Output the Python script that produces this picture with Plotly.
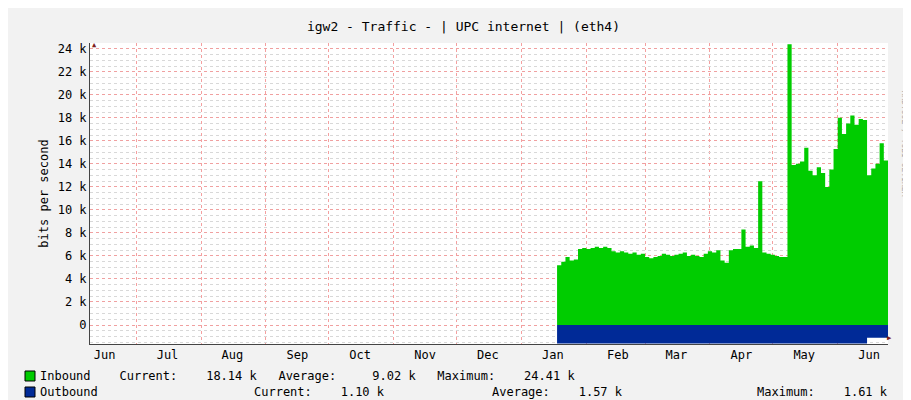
import pandas as pd
import plotly.graph_objects as go

# day offsets from 2013-01-01, sampled every 2 days (values in k bits/s)
days = list(range(17, 177, 2))
inbound = [5.2, 5.5, 5.9, 5.6, 5.7, 6.6, 6.7, 6.6, 6.7, 6.8, 6.7, 6.8, 6.7, 6.4, 6.3, 6.4,
           6.3, 6.2, 6.3, 6.1, 6.2, 5.9, 5.8, 5.9, 6.0, 6.2, 6.1, 6.0, 6.1, 6.2, 6.3, 6.0,
           6.1, 6.0, 5.9, 6.2, 6.4, 6.3, 6.5, 5.6, 5.4, 6.5, 6.6, 6.6, 8.3, 6.8, 6.9, 6.7,
           12.5, 6.3, 6.2, 6.1, 6.0, 5.9, 5.9, 24.4, 13.9, 14.0, 14.2, 15.4, 13.4, 13.0,
           13.7, 13.2, 12.0, 13.5, 15.3, 18.0, 16.6, 17.5, 18.2, 17.4, 17.9, 17.8, 13.0,
           13.6, 14.0, 15.8, 14.3, 19.0]
outbound = [1.6 if d < 164 else 1.1 for d in days]

month_labels = ["Jun", "Jul", "Aug", "Sep", "Oct", "Nov", "Dec",
                "Jan", "Feb", "Mar", "Apr", "May", "Jun"]
month_mid = pd.date_range("2012-06-01", periods=13, freq="MS") + pd.Timedelta(days=15)
y_ticks = list(range(0, 25, 2))
y_labels = ["0"] + [f"{v} k" for v in y_ticks[1:]]

dates = pd.Timestamp("2013-01-01") + pd.to_timedelta(days, unit="D")
mono = "DejaVu Sans Mono"

fig = go.Figure()
fig.add_trace(go.Scatter(x=dates, y=inbound, mode="lines", line=dict(width=0, shape="hv"),
                         fill="tozeroy", fillcolor="#00cc00", name="Inbound"))
fig.add_trace(go.Scatter(x=dates, y=[-v for v in outbound], mode="lines",
                         line=dict(width=0, shape="hv"),
                         fill="tozeroy", fillcolor="#002a97", name="Outbound"))

fig.update_layout(
    width=911, height=400, showlegend=False,
    paper_bgcolor="#f2f2f2", plot_bgcolor="white",
    margin=dict(l=82, r=31, t=35, b=64, autoexpand=False),
    font=dict(family=mono, size=12, color="black"),
    title=dict(text="igw2 - Traffic - | UPC internet | (eth4)", x=0.5, y=0.965,
               xanchor="center", font=dict(family=mono, size=13)),
)
fig.update_xaxes(range=["2012-06-09", "2013-06-25"], tickvals=month_mid, ticktext=month_labels,
                 showgrid=False, ticks="", showline=True, linecolor="#444", automargin=False,
                 minor=dict(dtick="M1", tick0="2012-07-01", showgrid=True,
                            gridcolor="#f4a0a0", griddash="dot", ticks=""),
                 zeroline=False)
fig.update_yaxes(range=[-1.65, 24.5], tickvals=y_ticks, ticktext=y_labels, automargin=False,
                 showgrid=True, gridcolor="#f0a0a0", griddash="dot", gridwidth=1,
                 showline=True, linecolor="#444", ticks="", zeroline=False,
                 minor=dict(dtick=0.5, showgrid=True, gridcolor="#d8d8d8", griddash="dot"),
                 title=dict(text="bits per second", font=dict(family=mono, size=12), standoff=6))

# axis arrows
fig.add_annotation(x=0, y=1, xref="paper", yref="paper", text="▲", showarrow=False,
                   font=dict(size=7, color="#802020"), yshift=4)
fig.add_annotation(x=1, y=0, xref="paper", yref="paper", text="▶", showarrow=False,
                   font=dict(size=7, color="#802020"), xshift=6)

# legend
def legend_text(x, y, text):
    fig.add_annotation(x=x, y=y, xref="paper", yref="paper", xanchor="left",
                       yanchor="middle", text=text, showarrow=False,
                       font=dict(family=mono, size=12))

def px(xp):
    return (xp - 82) / 798

def py(yp):
    return (336 - yp) / 301

for yp, color in [(368, "#00cc00"), (384, "#002a97")]:
    fig.add_shape(type="rect", xref="paper", yref="paper",
                  x0=px(17), x1=px(27), y0=py(yp + 5), y1=py(yp - 5),
                  fillcolor=color, line=dict(color="black", width=1))
legend_text(px(30), py(368), "Inbound    Current:    18.14 k   Average:     9.02 k   Maximum:    24.41 k")
legend_text(px(30), py(384), "Outbound")
legend_text(px(244), py(384), "Current:    1.10 k")
legend_text(px(482), py(384), "Average:    1.57 k")
legend_text(px(747), py(384), "Maximum:    1.61 k")

fig.add_annotation(x=px(903), y=py(80), xref="paper", yref="paper", text="RRDTOOL / TOBI OETIKER",
                   textangle=90, showarrow=False, font=dict(family=mono, size=8, color="#aaaaaa"))

fig.write_html("out.html")
